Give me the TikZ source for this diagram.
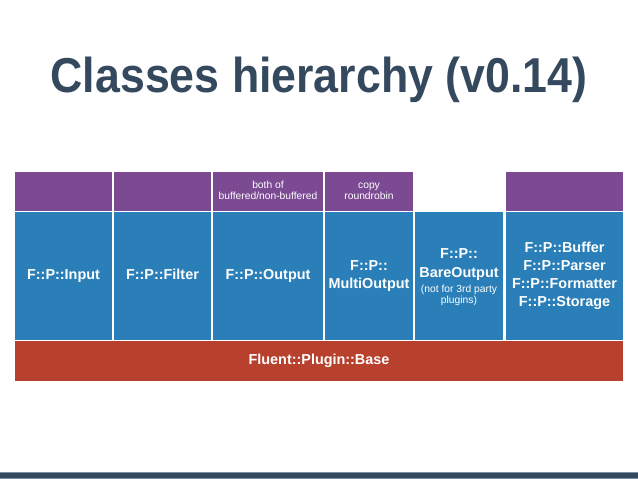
\documentclass[tikz,border=0pt]{standalone}
\usepackage{fontspec}
\setmainfont{Liberation Sans}
\usepackage{graphicx}
\definecolor{cpurple}{RGB}{124,74,146}
\definecolor{cblue}{RGB}{42,127,184}
\definecolor{cred}{RGB}{184,65,46}
\definecolor{cnavy}{RGB}{52,73,94}
\definecolor{cnavyedge}{RGB}{120,142,162}
\newcommand{\capstrut}{\rule[-0.25em]{0pt}{0.97em}}
\tikzset{
  cell/.style={fill, draw=none, inner sep=0pt, text=white, align=center},
  purplecell/.style={cell, fill=cpurple, minimum height=39pt, font=\fontsize{10.3}{11.5}\selectfont},
  bluecell/.style={cell, fill=cblue, minimum height=128pt, font=\bfseries\fontsize{14.4}{18}\selectfont},
  celltext/.style={inner sep=0pt, text=white, align=center, font=\bfseries\fontsize{14.4}{18}\selectfont},
  basecell/.style={cell, fill=cred, minimum height=39.5pt, font=\bfseries\fontsize{14.4}{18}\selectfont},
  titletext/.style={inner sep=0pt, text=cnavy, anchor=base, font=\bfseries\fontsize{49}{55}\selectfont}
}
\begin{document}
\begin{tikzpicture}[x=1pt,y=-1pt]
\useasboundingbox (0,0) rectangle (638,479);
\fill[white] (0,0) rectangle (638,479);
% title
\node[titletext] (title) at (319,92) {\scalebox{0.912}[1]{Classes hierarchy (v0.14)}};
% purple row
\node[purplecell, minimum width=97pt] (p1) at (63.5,191.5) {};
\node[purplecell, minimum width=97pt] (p2) at (162.5,191.5) {};
\node[purplecell, minimum width=110pt] (p3) at (268,191.5) {\capstrut both of\\buffered/non-buffered\capstrut};
\node[purplecell, minimum width=88pt] (p4) at (369,191.5) {\capstrut copy\\roundrobin\capstrut};
\node[purplecell, minimum width=117pt] (p6) at (564.5,191.5) {};
% blue row
\node[bluecell, minimum width=97pt] (b1) at (63.5,276) {\capstrut F::P::Input};
\node[bluecell, minimum width=97pt] (b2) at (162.5,276) {\capstrut F::P::Filter};
\node[bluecell, minimum width=110pt] (b3) at (268,276) {\capstrut F::P::Output};
\node[bluecell, minimum width=88pt] (b4) at (369,276) {\capstrut F::P::\\MultiOutput\capstrut};
\node[bluecell, minimum width=88pt] (b5) at (459,276) {};
\node[celltext] (b5t) at (459,277.5) {\capstrut F::P::\\[1pt]BareOutput\\[-3pt]{\mdseries\fontsize{10.3}{10.5}\selectfont (not for 3rd party}\\[-7pt]{\mdseries\fontsize{10.3}{10.5}\selectfont \capstrut plugins)}};
\node[bluecell, minimum width=117pt] (b6) at (564.5,276) {\capstrut F::P::Buffer\\F::P::Parser\\F::P::Formatter\\F::P::Storage\capstrut};
% base row
\node[basecell, minimum width=608pt] (base) at (319,360.75) {\capstrut Fluent::Plugin::Base};
% bottom bar
\fill[cnavy] (0,472) rectangle (638,479);
\draw[cnavyedge, line width=0.8pt] (0,472.4) -- (638,472.4);
\draw[cnavyedge, line width=0.8pt] (0,478.6) -- (638,478.6);
\end{tikzpicture}
\end{document}
